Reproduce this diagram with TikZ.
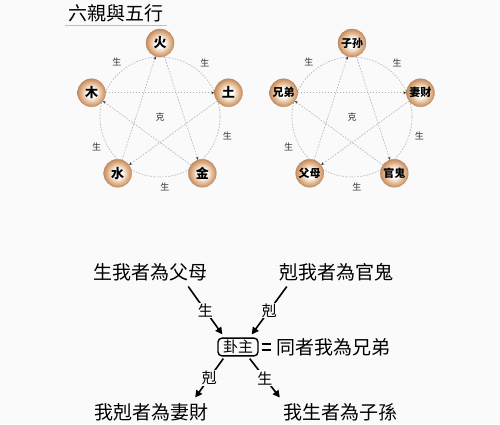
\documentclass[tikz,border=0pt]{standalone}
\usepackage{fontspec}
\newfontfamily\cjksc{Noto Sans CJK SC}
\newfontfamily\cjktc{Noto Sans CJK TC}
\usepackage{tikz}
\usetikzlibrary{arrows.meta,positioning}

\definecolor{bg}{RGB}{250,250,250}
\definecolor{orblight}{RGB}{226,184,144}
\definecolor{orbmid}{RGB}{192,128,78}
\definecolor{orbedge}{RGB}{140,84,46}
\definecolor{ringgray}{RGB}{178,178,178}

\pgfdeclareradialshading{orbshade}{\pgfpoint{0bp}{0bp}}{%
  color(0bp)=(white); color(8bp)=(white); color(18bp)=(orblight);
  color(27bp)=(orbmid); color(38bp)=(orbmid); color(46bp)=(orbedge);
  color(50bp)=(orbedge)}

\tikzset{
  orb/.style={circle, minimum size=28pt, inner sep=0pt, shading=orbshade,
    draw=orbedge!70, line width=0.3pt, font=\cjksc\bfseries\fontsize{13}{13}\selectfont},
  duo/.style={orb, font=\cjksc\bfseries\fontsize{11}{11}\selectfont},
  ring/.style={ringgray, line width=0.6pt, dash pattern=on 1.6pt off 1.4pt},
  ke/.style={ring, -{Stealth[length=3pt,width=2.6pt,color=black!80]}},
  gen/.style={draw=none, -{Stealth[length=3.4pt,width=3pt,color=black!80]}},
  tag/.style={font=\cjksc\fontsize{9}{9}\selectfont, text=black!80},
  say/.style={inner sep=0pt, font=\cjktc\fontsize{19}{19}\selectfont},
  box/.style={draw, rounded corners=4pt, line width=1.4pt, inner xsep=5pt,
    inner ysep=2pt, font=\cjktc\fontsize{15}{15}\selectfont},
  big/.style={line width=1.6pt, -{Triangle[length=7pt,width=7pt]}},
  bar/.style={line width=1.8pt, shorten <=3pt, shorten >=6pt},
  onlabel/.style={fill=bg, inner sep=1pt, font=\cjktc\fontsize{15}{15}\selectfont}
}

\begin{document}
\begin{tikzpicture}[x=1pt,y=1pt,node distance=18pt]
  \fill[bg] (0,0) rectangle (500,424);
  \useasboundingbox (0,0) rectangle (500,424);

  % title
  \node[font=\cjktc\fontsize{19}{19}\selectfont] (title) at (116,411) {六親與五行};
  \draw[black!25] (title.south west) -- (title.south east);

  % five elements
  \coordinate (lc) at (160,309);
  \coordinate (lo) at (160,307);
  \draw[ring] (lo) circle[radius=60];
  \node[orb] (huo)   at ([shift={(90:72)}]lc)  {火};
  \node[orb] (tu)    at ([shift={(18:72)}]lc)  {土};
  \node[orb] (jin)   at ([shift={(-54:72)}]lc) {金};
  \node[orb] (shui)  at ([shift={(234:72)}]lc) {水};
  \node[orb] (mu)    at ([shift={(162:72)}]lc) {木};
  \path[ke]
    (huo) edge (jin)
    (jin) edge (mu)
    (mu) edge (tu)
    (tu) edge (shui)
    (shui) edge (huo);
  \foreach \a in {52,-18,-90,198,126}
    \draw[gen] ([shift={(\a+6:60)}]lo) arc[start angle=\a+6, end angle=\a, radius=60];
  \foreach \a in {50,-16,-86,205,128}
    \node[tag] at ([shift={(\a:70)}]lo) {生};
  \node[tag] (kel) at (lo) {克};

  % six relatives
  \coordinate (rc) at (352,309);
  \coordinate (ro) at (352,307);
  \draw[ring] (ro) circle[radius=60];
  \node[duo] (zisun)  at ([shift={(90:72)}]rc)  {子孙};
  \node[duo] (qicai)  at ([shift={(18:72)}]rc)  {妻财};
  \node[duo] (guangui) at ([shift={(-54:72)}]rc) {官鬼};
  \node[duo] (fumu)   at ([shift={(234:72)}]rc) {父母};
  \node[duo] (xiongdi) at ([shift={(162:72)}]rc) {兄弟};
  \path[ke]
    (zisun) edge (guangui)
    (guangui) edge (xiongdi)
    (xiongdi) edge (qicai)
    (qicai) edge (fumu)
    (fumu) edge (zisun);
  \foreach \a in {52,-18,-90,198,126}
    \draw[gen] ([shift={(\a+6:60)}]ro) arc[start angle=\a+6, end angle=\a, radius=60];
  \foreach \a in {50,-16,-86,205,128}
    \node[tag] at ([shift={(\a:70)}]ro) {生};
  \node[tag] (ker) at (ro) {克};

  % the main line
  \node[box] (gua) at (238,77) {卦主};
  \node[say, right=of gua] (same) {同者我為兄弟};
  \node[say] (shengwo) at (150,152) {生我者為父母};
  \node[say] (kewo)    at (336,152) {剋我者為官鬼};
  \node[say] (woke)    at (151,12)  {我剋者為妻財};
  \node[say] (wosheng) at (340,12)  {我生者為子孫};
  \draw[bar] ([yshift=3pt]gua.east) -- ([yshift=3pt]same.west);
  \draw[bar] ([yshift=-3pt]gua.east) -- ([yshift=-3pt]same.west);
  \draw[big] ([shift={(-19,-5.5)}]shengwo.south east) -- node[onlabel] {生} ([shift={(5,3)}]gua.north west);
  \draw[big] ([shift={(8,-5.5)}]kewo.south west) -- node[onlabel] {剋} ([shift={(-7,3)}]gua.north east);
  \draw[big] ([shift={(6,-2)}]gua.south west) -- node[onlabel] {剋} ([shift={(-13,5.5)}]woke.north east);
  \draw[big] ([shift={(-9,-2)}]gua.south east) -- node[onlabel] {生} ([shift={(-3,5.5)}]wosheng.north west);
\end{tikzpicture}
\end{document}
